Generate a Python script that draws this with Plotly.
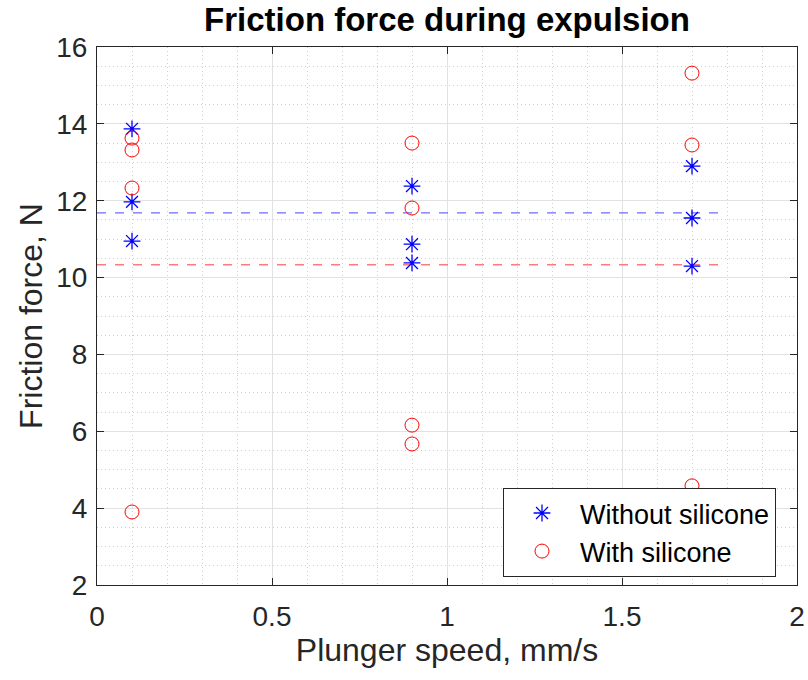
import plotly.graph_objects as go

speed_without = [0.1, 0.1, 0.1, 0.9, 0.9, 0.9, 1.7, 1.7, 1.7]
force_without = [13.87, 11.97, 10.95, 12.38, 10.87, 10.38, 12.90, 11.55, 10.30]
speed_with = [0.1, 0.1, 0.1, 0.1, 0.9, 0.9, 0.9, 0.9, 1.7, 1.7, 1.7]
force_with = [13.63, 13.32, 12.33, 3.90, 13.50, 11.81, 6.16, 5.67, 15.32, 13.45, 4.58]
mean_x_range = [0, 1.8]
mean_without = sum(force_without) / len(force_without)
mean_with = sum(force_with) / len(force_with)

FONT = "Liberation Sans, Arial, Helvetica, sans-serif"

fig = go.Figure()
fig.add_trace(go.Scatter(x=mean_x_range, y=[mean_without] * 2, mode="lines",
                         line=dict(color="rgba(70,70,255,0.8)", dash="dash", width=1.3),
                         showlegend=False, hoverinfo="skip"))
fig.add_trace(go.Scatter(x=mean_x_range, y=[mean_with] * 2, mode="lines",
                         line=dict(color="rgba(255,90,90,0.8)", dash="dash", width=1.3),
                         showlegend=False, hoverinfo="skip"))
fig.add_trace(go.Scatter(x=speed_without, y=force_without, mode="markers", name="Without silicone",
                         marker=dict(symbol="asterisk-open", size=14, color="blue",
                                     line=dict(color="blue", width=1.3))))
fig.add_trace(go.Scatter(x=speed_with, y=force_with, mode="markers", name="With silicone",
                         marker=dict(symbol="circle-open", size=14, color="red",
                                     line=dict(color="red", width=1))))

axis_common = dict(
    showline=True, mirror="ticks", linecolor="#262626", linewidth=1,
    ticks="inside", ticklen=7, tickcolor="#262626",
    showgrid=True, gridcolor="#e2e2e2", gridwidth=1, zeroline=False,
    automargin=False,
    tickfont=dict(size=28, color="#262626", family=FONT),
)
fig.update_xaxes(range=[0, 2], dtick=0.5, ticklabelstandoff=6,
                 title=dict(text="Plunger speed, mm/s", font=dict(size=32, color="#262626", family=FONT), standoff=8),
                 minor=dict(dtick=0.1, showgrid=True, gridcolor="#cfcfcf", griddash="1px,3px", ticks=""),
                 **axis_common)
fig.update_yaxes(range=[2, 16], dtick=2, ticklabelstandoff=3,
                 title=dict(text="Friction force, N", font=dict(size=32, color="#262626", family=FONT), standoff=4),
                 minor=dict(dtick=0.5, showgrid=True, gridcolor="#cfcfcf", griddash="1px,3px", ticks=""),
                 **axis_common)
fig.update_layout(
    width=808, height=680,
    margin=dict(l=97, r=11, t=47, b=95, autoexpand=False),
    paper_bgcolor="white", plot_bgcolor="white",
    font=dict(family=FONT, color="#262626"),
    title=dict(text="<b>Friction force during expulsion</b>", x=(97 + 350) / 808, xanchor="center",
               xref="container", yref="container", y=0.954, yanchor="bottom",
               font=dict(size=33, color="black", family=FONT)),
    legend=dict(x=0.97, y=0.015, xanchor="right", yanchor="bottom",
                bordercolor="#262626", borderwidth=1, bgcolor="white",
                font=dict(size=27, color="black", family=FONT), itemwidth=66, tracegroupgap=0),
)
fig.write_html("out.html", config={"displayModeBar": False},
               post_script="document.body.style.margin='0';document.body.style.padding='0';")
